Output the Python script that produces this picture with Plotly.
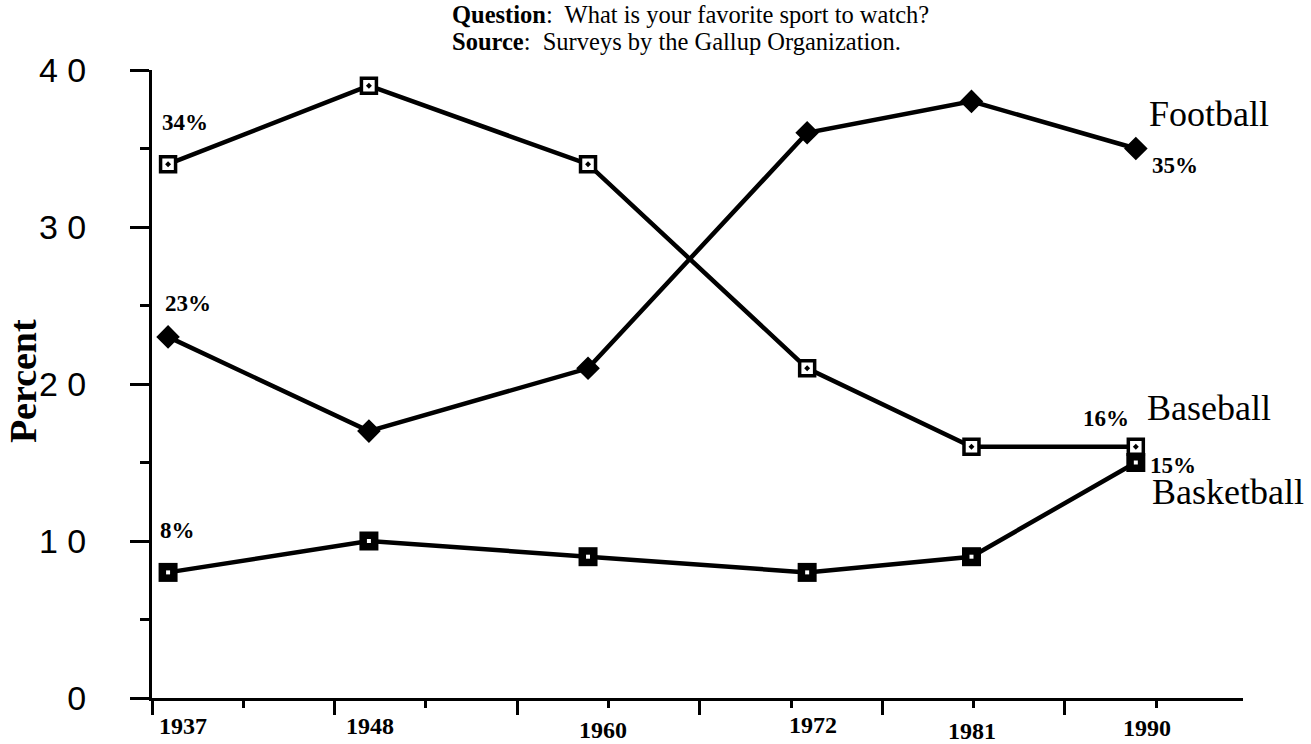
import plotly.graph_objects as go

# ---- data ----
years = [1937, 1948, 1960, 1972, 1981, 1990]
year_labels = ["1937", "1948", "1960", "1972", "1981", "1990"]
baseball = [34, 39, 34, 21, 16, 16]
football = [23, 17, 21, 36, 38, 35]
basketball = [8, 10, 9, 8, 9, 15]
y_ticks = [0, 10, 20, 30, 40]
y_tick_text = ["0", "1 0", "2 0", "3 0", "4 0"]

SERIF = "Liberation Serif, Times New Roman, serif"
SANS = "Liberation Sans, Arial, sans-serif"

fig = go.Figure()

line_style = dict(color="black", width=4.5)

fig.add_trace(go.Scatter(
    x=years, y=baseball, mode="lines+markers", name="Baseball",
    line=line_style,
    marker=dict(symbol="square-dot", size=15, color="white",
                line=dict(color="black", width=3.5)),
    showlegend=False, hoverinfo="skip"))

fig.add_trace(go.Scatter(
    x=years, y=football, mode="lines+markers", name="Football",
    line=line_style,
    marker=dict(symbol="diamond", size=16, color="black",
                line=dict(color="black", width=2)),
    showlegend=False, hoverinfo="skip"))

fig.add_trace(go.Scatter(
    x=years, y=basketball, mode="lines+markers", name="Basketball",
    line=line_style,
    marker=dict(symbol="square", size=19, color="black",
                line=dict(width=0)),
    showlegend=False, hoverinfo="skip"))

fig.add_trace(go.Scatter(
    x=years, y=basketball, mode="markers", name="Basketball dot",
    marker=dict(symbol="square", size=4, color="white", line=dict(width=0)),
    showlegend=False, hoverinfo="skip"))

annotations = []

# year labels under the points (hand-placed in original)
year_shift = {1937: (15, -28), 1948: (1, -28), 1960: (15, -32),
              1972: (6, -27), 1981: (1, -33), 1990: (11, -30)}
for yr, lab in zip(years, year_labels):
    dx, dy = year_shift[yr]
    annotations.append(dict(x=yr, y=0, xref="x", yref="y", text="<b>%s</b>" % lab,
                            showarrow=False, xanchor="center", yanchor="middle",
                            xshift=dx, yshift=dy,
                            font=dict(family=SERIF, size=24, color="black")))

# percent labels
pct_font = dict(family=SERIF, size=23, color="black")
pct_labels = [
    (years[0], baseball[0], "34%", 17, 42),
    (years[0], football[0], "23%", 20, 33),
    (years[0], basketball[0], "8%", 9, 42),
    (years[-1], football[-1], "35%", 39, -17),
    (years[-1], baseball[-1], "16%", -30, 28),
    (years[-1], basketball[-1], "15%", 37, -3),
]
for x, y, t, dx, dy in pct_labels:
    annotations.append(dict(x=x, y=y, xref="x", yref="y", text="<b>%s</b>" % t,
                            showarrow=False, xanchor="center", yanchor="middle",
                            xshift=dx, yshift=dy, font=pct_font))

# series names
name_font = dict(family=SERIF, size=36, color="black")
series_names = [
    (years[-1], football[-1], "Football", 11, 35),
    (years[-1], baseball[-1], "Baseball", 9, 39),
    (years[-1], basketball[-1], "Basketball", 14, -29),
]
for x, y, t, dx, dy in series_names:
    annotations.append(dict(x=x, y=y, xref="x", yref="y", text=t,
                            showarrow=False, xanchor="left", yanchor="middle",
                            xshift=dx, yshift=dy, font=name_font))

# header (two lines)
header_font = dict(family=SERIF, size=24.5, color="black")
annotations.append(dict(
    x=0.2731, y=1, xref="paper", yref="paper", xanchor="left", yanchor="middle",
    yshift=56, align="left", showarrow=False,
    text="<b>Question</b>:\u00a0 What is your favorite sport to watch?",
    font=header_font))
annotations.append(dict(
    x=0.2731, y=1, xref="paper", yref="paper", xanchor="left", yanchor="middle",
    yshift=29, align="left", showarrow=False,
    text="<b>Source</b>:\u00a0 Surveys by the Gallup Organization.",
    font=header_font))

# y axis title
annotations.append(dict(
    x=-0.118, y=0.505, xref="paper", yref="paper", xanchor="center", yanchor="middle",
    textangle=-90, showarrow=False, text="<b>Percent</b>",
    font=dict(family=SERIF, size=38, color="black")))

fig.update_layout(
    width=1311, height=744,
    margin=dict(l=152, r=68, t=70, b=46),
    paper_bgcolor="white", plot_bgcolor="white",
    annotations=annotations,
    showlegend=False,
    xaxis=dict(range=[1936.12, 1995.87], tick0=1936.12, dtick=10,
               showgrid=False, zeroline=False, showline=True,
               linecolor="black", linewidth=3,
               ticks="outside", ticklen=14, tickwidth=3, tickcolor="black",
               showticklabels=False,
               minor=dict(dtick=5, tick0=1936.12, ticks="outside", ticklen=7,
                          tickwidth=3, tickcolor="black", showgrid=False)),
    yaxis=dict(range=[0, 40], tickvals=y_ticks, ticktext=y_tick_text,
               showgrid=False, zeroline=False, showline=True,
               linecolor="black", linewidth=3,
               ticks="outside", ticklen=19, tickwidth=3, tickcolor="black",
               ticklabelstandoff=37,
               tickfont=dict(family=SANS, size=34, color="black"),
               minor=dict(dtick=5, tick0=0, ticks="outside", ticklen=9,
                          tickwidth=3, tickcolor="black", showgrid=False)),
)

fig.write_html("out.html",
               config={"displayModeBar": False},
               post_script="document.body.style.margin='0';document.body.style.overflow='hidden';")
